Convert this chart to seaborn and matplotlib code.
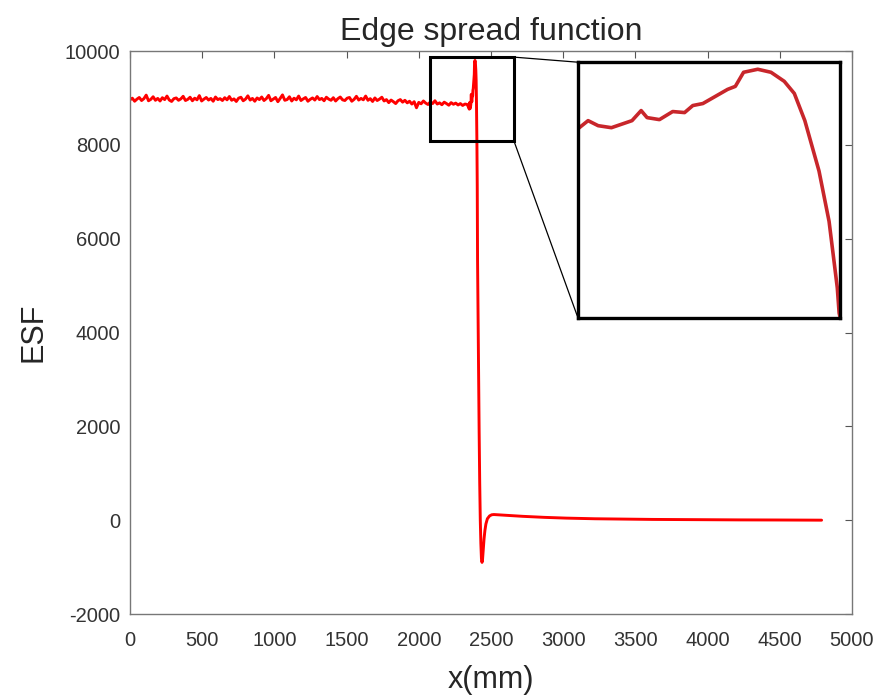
import numpy as np
import pandas as pd
import seaborn as sns
import matplotlib.pyplot as plt
from matplotlib.patches import Rectangle, ConnectionPatch

# flat (noisy) part of the edge profile, sampled every 16 mm from 0 to 2336
flat_x = np.arange(0, 2337, 16)
flat_esf = [
    8960, 8995, 8930, 8975, 9010, 8945, 8985, 9060, 8940, 8970, 9025, 8950, 8990, 8935, 9005, 8965, 9040, 8955, 8925, 8985,
    9000, 8950, 8980, 9035, 8945, 8970, 9015, 8940, 8995, 8960, 9050, 8935, 8975, 9010, 8955, 8990, 8930, 9020, 8965, 8985,
    8945, 9005, 8960, 9030, 8950, 8980, 8925, 8995, 9015, 8940, 8975, 9045, 8955, 8990, 8930, 9000, 8965, 9020, 8945, 8985,
    9055, 8940, 8975, 9010, 8920, 8990, 9065, 8950, 8965, 9025, 8935, 8995, 8960, 9040, 8945, 8980, 9010, 8930, 8970, 9000,
    8955, 9030, 8965, 8990, 8940, 9015, 8975, 8950, 9005, 8935, 8985, 9020, 8960, 8945, 8995, 9010, 8930, 8970, 9035, 8955,
    8990, 8960, 9040, 8950, 8985, 8925, 9000, 8945, 8975, 9015, 8935, 8965, 8900, 8955, 8920, 8880, 8940, 8965, 8910, 8950,
    8895, 8930, 8870, 8920, 8790, 8905, 8875, 8935, 8890, 8860, 8915, 8880, 8940, 8870, 8895, 8855, 8910, 8880, 8845, 8900,
    8865, 8890, 8850, 8880, 8840, 8870, 8860,
]

edge_x = [2350.0, 2352.2, 2354.4, 2357.3, 2361.8, 2363.8, 2365.1, 2367.8, 2370.7, 2373.3,
          2375.1, 2377.3, 2380.4, 2382.7, 2384.4, 2386.2, 2389.3, 2392.2, 2395.1, 2397.3,
          2399.6, 2402.7, 2404.9, 2406.7, 2407.1, 2410, 2414, 2418, 2422, 2426,
          2430, 2434, 2438, 2442, 2447, 2452, 2458, 2465, 2475, 2490, 2505]
edge_esf = [8761, 8902, 8814, 8779, 8902, 9078, 8955, 8920, 9061, 9043,
            9166, 9201, 9342, 9448, 9501, 9747, 9800, 9747, 9589, 9377,
            8902, 8022, 7142, 5981, 5541, 4500, 3200, 1900, 800, 0,
            -500, -820, -900, -820, -600, -400, -220, -80, 30, 90, 115]

# tail after the edge, every 50 mm from 2520 to 4770, then last sample
tail_x = list(np.arange(2520, 4771, 50)) + [4790]
tail_esf = [120, 110, 100, 90, 82, 74, 66, 60, 54, 48,
            44, 40, 36, 33, 30, 28, 26, 24, 22, 20,
            19, 18, 16, 15, 14, 13, 12, 11, 10, 10,
            9, 8, 8, 7, 6, 6, 5, 5, 4, 4,
            3, 3, 2, 2, 1, 1, 0]

df = pd.DataFrame({
    "x": np.concatenate([flat_x, edge_x, tail_x]),
    "ESF": np.concatenate([flat_esf, edge_esf, tail_esf]),
})

sns.set_style("white")
plt.rcParams["font.family"] = ["Liberation Sans", "DejaVu Sans"]
plt.rcParams["axes.unicode_minus"] = False

fig = plt.figure(figsize=(8.93, 6.99), dpi=100)
ax = fig.add_axes([0.1456, 0.1216, 0.8084, 0.8054])

sns.lineplot(data=df, x="x", y="ESF", ax=ax, color="red", linewidth=2.1,
             estimator=None, sort=False)

ax.set_xlim(0, 5000)
ax.set_ylim(-2000, 10000)
ax.set_xticks(np.arange(0, 5001, 500))
ax.set_yticks(np.arange(-2000, 10001, 2000))
ax.tick_params(direction="in", top=True, right=True, length=5, width=0.8,
               labelsize=14.5, colors="#555555", labelcolor="#333333")
ax.tick_params(axis="x", pad=12)
ax.tick_params(axis="y", pad=7)
for s in ax.spines.values():
    s.set_color("#777777")
    s.set_linewidth(1.0)

ax.set_title("Edge spread function", fontsize=23, color="#262626", pad=8)
ax.set_xlabel("x(mm)", fontsize=22, color="#262626", labelpad=11)
ax.set_ylabel("ESF", fontsize=22, color="#262626", labelpad=12)

# zoom box on the main plot
box_x0, box_x1 = 2078, 2659
box_y0, box_y1 = 8083, 9870
ax.add_patch(Rectangle((box_x0, box_y0), box_x1 - box_x0, box_y1 - box_y0,
                       fill=False, edgecolor="black", linewidth=2.2, zorder=5))

# inset with the enlarged edge
axin = fig.add_axes([0.6473, 0.545, 0.2934, 0.366])
sns.lineplot(data=df, x="x", y="ESF", ax=axin, color="#c8262b", linewidth=2.6,
             estimator=None, sort=False)
axin.lines[0].set_solid_joinstyle("round")
axin.set_xlim(2350, 2407.3)
axin.set_ylim(5453, 9923)
axin.set_xticks([])
axin.set_yticks([])
axin.set_xlabel("")
axin.set_ylabel("")
for s in axin.spines.values():
    s.set_color("black")
    s.set_linewidth(2.4)

for ya, yb in [(box_y1, 1), (box_y0, 0)]:
    con = ConnectionPatch(xyA=(box_x1, ya), coordsA=ax.transData,
                          xyB=(0, yb), coordsB=axin.transAxes,
                          color="black", linewidth=0.9)
    fig.add_artist(con)

fig.savefig("out.png", dpi=100)
